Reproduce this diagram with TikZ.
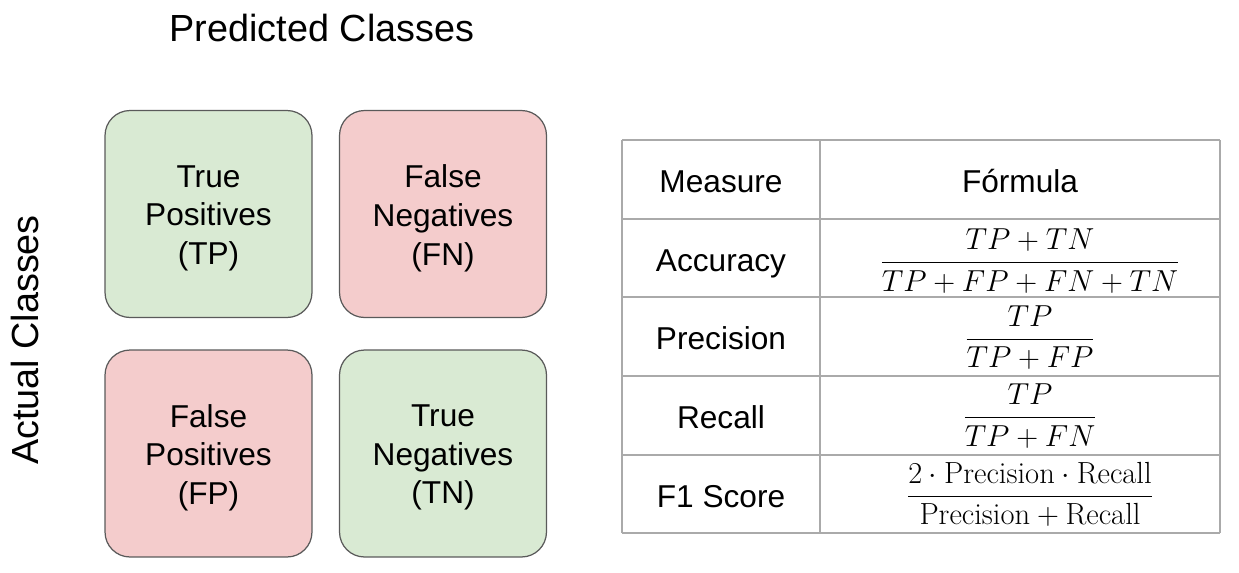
\documentclass[tikz,border=0pt]{standalone}
\usepackage{amsmath}
\usepackage{fontspec}
\setsansfont{Liberation Sans}
\usepackage{tikz}
\usetikzlibrary{positioning}
\definecolor{tpgreen}{HTML}{D9EAD3}
\definecolor{fnred}{HTML}{F4CCCC}
\definecolor{edgegray}{HTML}{5A5A5A}
\definecolor{rulegray}{HTML}{AAAAAA}

\begin{document}
\begin{tikzpicture}[
x=0.02cm,y=-0.02cm,
font=\sffamily\fontsize{18}{22}\selectfont,
cell/.style={draw=edgegray,line width=0.7pt,rounded corners=0.5cm,
  minimum width=4.14cm,minimum height=4.14cm},
celltext/.style={align=center},
rule/.style={draw=rulegray,line width=1pt},
measure/.style={anchor=base},
formula/.style={font=\fontsize{17.4}{21}\selectfont},
heading/.style={font=\sffamily\fontsize{21.5}{26}\selectfont}]
    \useasboundingbox (0,0) rectangle (1239,572);

    % Axis titles
    \node[heading] (pred) at (322,28) {Predicted Classes};
    \node[heading,rotate=90] (actual) at (25,340) {Actual Classes};

    % Confusion matrix
    \node[cell,fill=tpgreen] (tp) at (208.5,214) {};
    \node[cell,fill=fnred] (fn) at (443,214) {};
    \node[cell,fill=fnred] (fp) at (208.5,453.5) {};
    \node[cell,fill=tpgreen] (tn) at (443,453.5) {};
    \node[celltext] (tplbl) at ([yshift=-2.4pt]tp.center) {True\\Positives\\(TP)};
    \node[celltext] (fnlbl) at ([yshift=-2.4pt]fn.center) {False\\Negatives\\(FN)};
    \node[celltext] (fplbl) at ([yshift=-2.4pt]fp.center) {False\\Positives\\(FP)};
    \node[celltext] (tnlbl) at ([yshift=-2.4pt]tn.center) {True\\Negatives\\(TN)};

    % Table of measures
    \foreach \y in {140,219,297,376,455,533}
        \draw[rule] (622,\y) -- (1220,\y);
    \foreach \x in {622,820,1220}
        \draw[rule] (\x,140) -- (\x,533);

    \node[measure] (m1) at (721,192.5) {Measure};
    \node[measure] (f1) at (1020,192.5) {Fórmula};
    \node[measure] (m2) at (721,271) {Accuracy};
    \node[formula] (f2) at (1030,261) {$\dfrac{TP+TN}{TP+FP+FN+TN}$};
    \node[measure] (m3) at (721,349.5) {Precision};
    \node[formula] (f3) at (1030,337.5) {$\dfrac{TP}{TP+FP}$};
    \node[measure] (m4) at (721,428.5) {Recall};
    \node[formula] (f4) at (1030,416) {$\dfrac{TP}{TP+FN}$};
    \node[measure] (m5) at (721,507) {F1 Score};
    \node[formula] (f5) at (1030,494.5) {$\dfrac{2\cdot\mathrm{Precision}\cdot\mathrm{Recall}}{\mathrm{Precision}+\mathrm{Recall}}$};
\end{tikzpicture}
\end{document}
